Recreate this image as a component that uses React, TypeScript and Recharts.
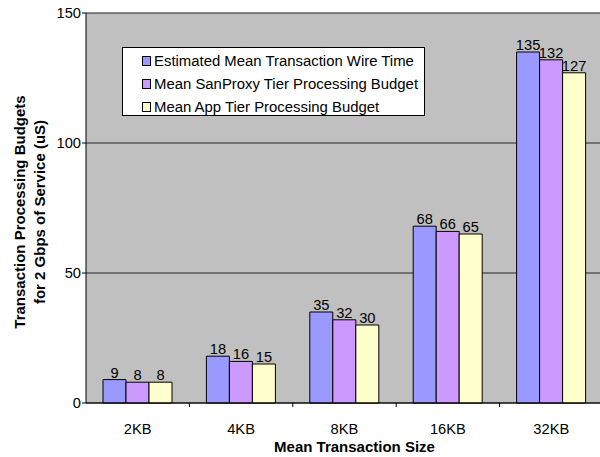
import React from 'react';
import { BarChart, Bar, XAxis, YAxis, CartesianGrid, LabelList } from 'recharts';

const categories = ['2KB', '4KB', '8KB', '16KB', '32KB'];
const wireTime = [9, 18, 35, 68, 135];
const sanProxy = [8, 16, 32, 66, 132];
const appTier = [8, 15, 30, 65, 127];
const yTicks = [0, 50, 100, 150];
const boundaryTicks = [1, 2, 3, 4];

const series = [
  { key: 'wire', name: 'Estimated Mean Transaction Wire Time', color: '#9999FF' },
  { key: 'san', name: 'Mean SanProxy Tier Processing Budget', color: '#CC99FF' },
  { key: 'app', name: 'Mean App Tier Processing Budget', color: '#FFFFCC' },
];

const data = categories.map((c, i) => ({
  cat: c,
  idx: i + 0.5,
  wire: wireTime[i],
  san: sanProxy[i],
  app: appTier[i],
}));

const FONT = 'Arial, "Liberation Sans", sans-serif';
const FS = 14.7;

const YLabel = (props: any) => {
  const vb = props.viewBox || {};
  const cy = vb.y + vb.height / 2 + 4;
  return (
    <g>
      <text x={25} y={cy} transform={`rotate(-90 25 ${cy})`} textAnchor="middle" fontFamily={FONT} fontSize={15} fontWeight="bold" fill="#000">
        Transaction Processing Budgets
      </text>
      <text x={45} y={cy} transform={`rotate(-90 45 ${cy})`} textAnchor="middle" fontFamily={FONT} fontSize={15} fontWeight="bold" fill="#000">
        for 2 Gbps of Service (uS)
      </text>
    </g>
  );
};

const XLabel = (props: any) => {
  const vb = props.viewBox || {};
  const cx = vb.x + vb.width / 2 + 10;
  return (
    <text x={cx} y={452} textAnchor="middle" fontFamily={FONT} fontSize={15} fontWeight="bold" fill="#000">
      Mean Transaction Size
    </text>
  );
};

export default function App() {
  return (
    <div style={{ position: 'absolute', left: 0, top: 0, width: 600, height: 457, background: '#fff', overflow: 'hidden' }}>
      <BarChart
        width={600}
        height={457}
        data={data}
        margin={{ top: 13, right: -3, bottom: 24, left: 0 }}
        barCategoryGap={17}
        barGap={0}
      >
        <CartesianGrid vertical={false} fill="#C0C0C0" stroke="#222" strokeWidth={1} fillOpacity={1} yAxisId="y" xAxisId="cat" />
        <XAxis
          xAxisId="bound"
          type="number"
          dataKey="idx"
          domain={[0, 5]}
          ticks={boundaryTicks}
          tick={{ fontSize: 0 }}
          tickFormatter={() => ''}
          tickSize={4}
          tickLine={{ stroke: '#000' }}
          axisLine={{ stroke: '#000' }}
          height={1}
          orientation="bottom"
          allowDataOverflow
        />
        <XAxis
          xAxisId="cat"
          dataKey="cat"
          tickLine={false}
          tickMargin={14}
          axisLine={false}
          tick={{ fontFamily: FONT, fontSize: FS, fill: '#000' }}
          height={29}
          label={<XLabel />}
        />
        <YAxis
          yAxisId="y"
          domain={[0, 150]}
          ticks={yTicks}
          width={86}
          tickSize={4}
          tickMargin={1}
          axisLine={{ stroke: '#000' }}
          tickLine={{ stroke: '#000' }}
          tick={{ fontFamily: FONT, fontSize: FS, fill: '#000' }}
          label={<YLabel />}
        />
        {series.map((s) => (
          <Bar key={s.key} dataKey={s.key} name={s.name} fill={s.color} stroke="#000" strokeWidth={1} xAxisId="cat" yAxisId="y" isAnimationActive={false}>
            <LabelList dataKey={s.key} position="top" offset={2} fill="#000" fontFamily={FONT} fontSize={FS} />
          </Bar>
        ))}
      </BarChart>
      <div
        style={{
          position: 'absolute',
          left: 122,
          top: 47,
          width: 301,
          height: 67,
          background: '#fff',
          border: '1px solid #000',
          fontFamily: FONT,
          fontSize: 14.9,
          color: '#000',
          boxSizing: 'content-box',
        }}
      >
        {series.map((s, i) => (
          <div key={s.key} style={{ position: 'absolute', left: 19, top: 4 + i * 23, height: 18, display: 'flex', alignItems: 'center', whiteSpace: 'nowrap' }}>
            <span style={{ display: 'inline-block', width: 7, height: 8, background: s.color, border: '1px solid #000', marginRight: 3 }} />
            <span>{s.name}</span>
          </div>
        ))}
      </div>
    </div>
  );
}
